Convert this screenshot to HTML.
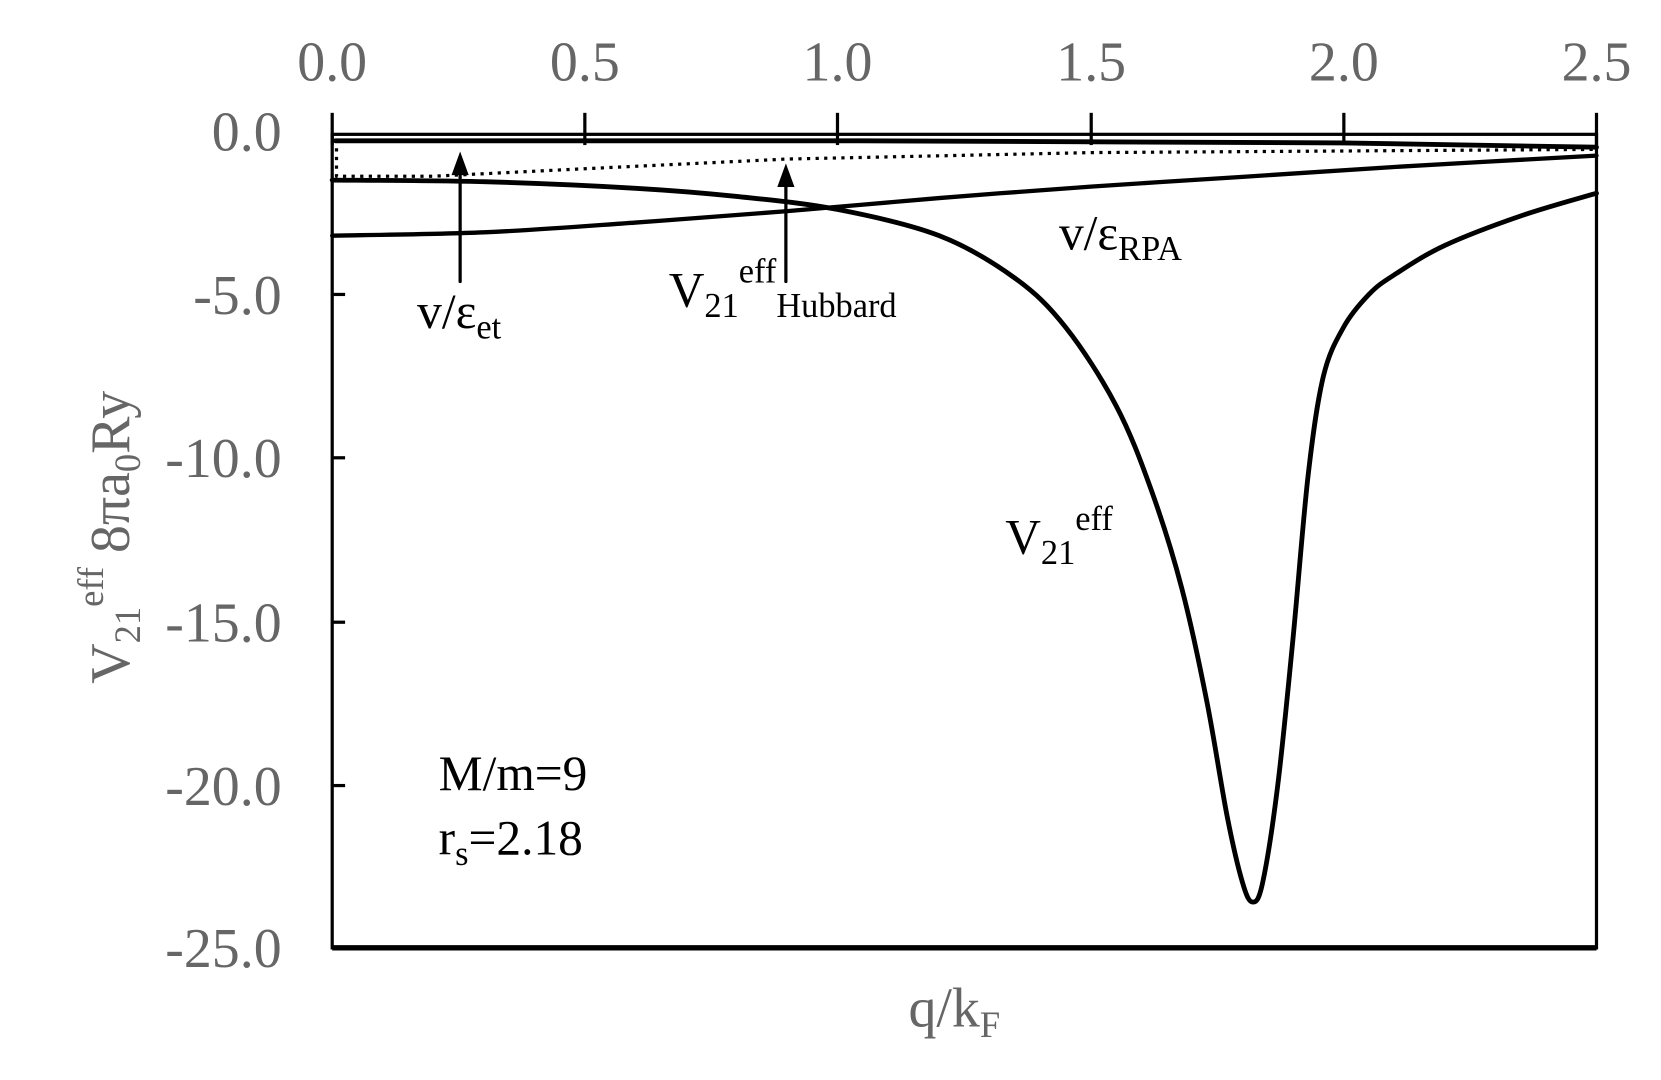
<!DOCTYPE html>
<html><head><meta charset="utf-8"><style>
html,body{margin:0;padding:0;background:#fff;}
svg{display:block;}
text{font-family:"Liberation Serif",serif;}
</style></head><body>
<svg width="1661" height="1080" viewBox="0 0 1545 1005" preserveAspectRatio="none" xmlns="http://www.w3.org/2000/svg">
<g fill="#666" font-size="52" text-anchor="middle">
<text x="309" y="75">0.0</text><text x="544" y="75">0.5</text><text x="779" y="75">1.0</text>
<text x="1015" y="75">1.5</text><text x="1250" y="75">2.0</text><text x="1485" y="75">2.5</text>
</g>
<g fill="#666" font-size="52" text-anchor="end">
<text x="262" y="140">0.0</text><text x="262" y="292">-5.0</text><text x="262" y="444">-10.0</text>
<text x="262" y="597">-15.0</text><text x="262" y="749">-20.0</text><text x="262" y="900">-25.0</text>
</g>
<rect x="309" y="125" width="1176" height="757" fill="none" stroke="#000" stroke-width="3"/>
<line x1="309" y1="882" x2="1485" y2="882" stroke="#000" stroke-width="5"/>
<g stroke="#000" stroke-width="3">
<line x1="309" y1="105" x2="309" y2="135"/><line x1="544" y1="105" x2="544" y2="135"/>
<line x1="779" y1="105" x2="779" y2="135"/><line x1="1015" y1="105" x2="1015" y2="135"/>
<line x1="1250" y1="105" x2="1250" y2="135"/><line x1="1485" y1="105" x2="1485" y2="135"/>
<line x1="309" y1="274" x2="321" y2="274"/><line x1="309" y1="426" x2="321" y2="426"/>
<line x1="309" y1="579" x2="321" y2="579"/><line x1="309" y1="731" x2="321" y2="731"/>
</g>
<g fill="none" stroke="#000" stroke-linejoin="round" stroke-linecap="round">
<path id="et" stroke-width="4.5" d="M312,131 L800,131 L1250,133 L1485,137"/>
<path id="hub" stroke-width="3" stroke-dasharray="3,5" stroke-linecap="butt" d="M313,130 L313,164 L403,164 L544,157 L732,148 L1015,142 L1485,139"/>
<path id="rpa" stroke-width="4" d="M309,219.3 L450,216 L591,207 L732,196.5 L873.5,184.3 L1014.6,173.7 L1155.7,164.6 L1297,155.4 L1485,144.8"/>
<path id="v21" stroke-width="4.5" d="M309,167.6 L1485,179.8"/>
<line x1="428" y1="262" x2="428" y2="155" stroke-width="3"/>
<line x1="731" y1="262" x2="731" y2="165" stroke-width="3"/>
</g>
<polygon points="428,141 420,163 436,163" fill="#000"/>
<polygon points="731,152 723,174 739,174" fill="#000"/>
<g fill="#000" font-size="46">
<text x="388" y="305">v/ε<tspan font-size="32" dy="10">et</tspan></text>
<text x="622" y="285">V<tspan font-size="32" dy="10">21</tspan><tspan font-size="32" dy="-32">eff</tspan><tspan font-size="32" dy="32">Hubbard</tspan></text>
<text x="985" y="232">v/ε<tspan font-size="32" dy="10">RPA</tspan></text>
<text x="935" y="515">V<tspan font-size="32" dy="10">21</tspan><tspan font-size="32" dy="-32">eff</tspan></text>
<text x="408" y="735">M/m=9</text>
<text x="408" y="795">r<tspan font-size="32" dy="10">s</tspan><tspan dy="-10">=2.18</tspan></text>
</g>
<text x="845" y="955" fill="#666" font-size="52">q/k<tspan font-size="34" dy="10">F</tspan></text>
<text transform="translate(120,500) rotate(-90)" text-anchor="middle" fill="#666" font-size="52">V<tspan font-size="34" dy="10">21</tspan><tspan font-size="34" dy="-34">eff</tspan><tspan dy="24">  8πa</tspan><tspan font-size="34" dy="10">0</tspan><tspan dy="-10">Ry</tspan></text>
</svg>
<script>
function cr(p){var d="M"+p[0][0]+","+p[0][1];for(var i=0;i<p.length-1;i++){var a=p[i-1]||p[i],b=p[i],c=p[i+1],e=p[i+2]||c;
d+=" C"+(b[0]+(c[0]-a[0])/6).toFixed(1)+","+(b[1]+(c[1]-a[1])/6).toFixed(1)+" "+(c[0]-(e[0]-b[0])/6).toFixed(1)+","+(c[1]-(e[1]-b[1])/6).toFixed(1)+" "+c[0]+","+c[1];}return d;}
function pts(a){return a.map(function(q){return [+(309+470.4*q[0]).toFixed(1),+(122+30.4*(-q[1])).toFixed(1)];});}
document.getElementById("v21").setAttribute("d",cr(pts([[0,-1.5],[0.3,-1.55],[0.6,-1.75],[0.8,-2.0],[1.0,-2.4],[1.2,-3.2],[1.35,-4.5],[1.45,-6.0],[1.55,-8.4],[1.62,-11],[1.68,-14],[1.73,-17.5],[1.77,-21],[1.8,-23],[1.82,-23.6],[1.84,-23],[1.87,-20],[1.9,-15.5],[1.93,-10.5],[1.96,-7.5],[2.0,-6.0],[2.05,-5.0],[2.1,-4.4],[2.2,-3.5],[2.35,-2.6],[2.5,-1.9]])));
document.getElementById("rpa").setAttribute("d",cr(pts([[0,-3.2],[0.3,-3.1],[0.6,-2.8],[0.9,-2.45],[1.2,-2.05],[1.5,-1.7],[1.8,-1.4],[2.1,-1.1],[2.5,-0.75]])));
</script>
</body></html>
